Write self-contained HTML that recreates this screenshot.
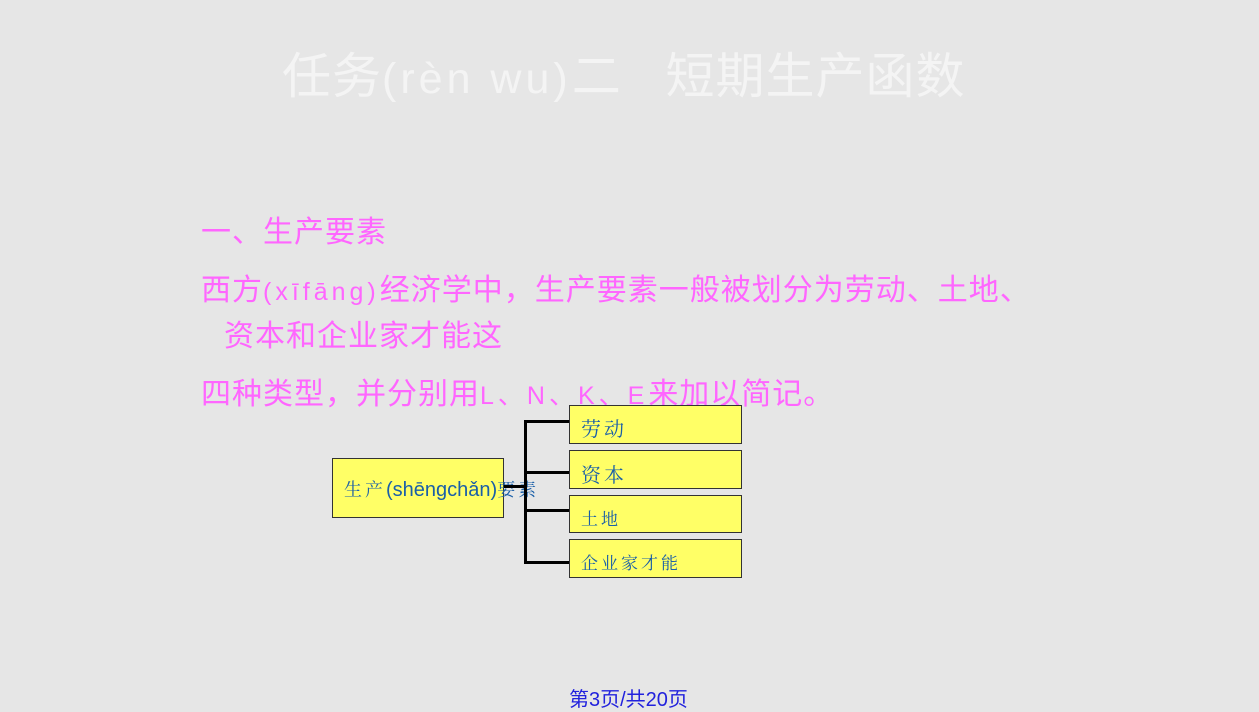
<!DOCTYPE html>
<html><head><meta charset="utf-8"><style>
body{margin:0;width:1259px;height:708px;background:#e6e6e6;position:relative;overflow:hidden;font-family:"Liberation Sans","Noto Sans CJK SC",sans-serif}
.a{position:absolute;white-space:nowrap}
.m{color:#ff66ff;font-size:30px;letter-spacing:1px}
.m span{font-size:25px;letter-spacing:4px}
.box{position:absolute;background:#ffff66;border:1px solid #333;box-sizing:border-box}
.s{font-family:"Noto Serif CJK SC","Liberation Serif",serif;color:#1a5fa8;letter-spacing:3px}
.l{position:absolute;background:#000}
</style></head><body>
<div class="a" style="left:282px;top:37px;font-size:49px;color:#f4f4f4;letter-spacing:1px">任务<span style="font-size:43px;letter-spacing:4px">(rèn wu)</span>二&nbsp;&nbsp;&nbsp;短期生产函数</div>
<div class="a m" style="left:201px;top:207px">一、生产要素</div>
<div class="a m" style="left:201px;top:265px">西方<span>(xīfāng)</span>经济学中，生产要素一般被划分为劳动、土地、</div>
<div class="a m" style="left:224px;top:311px">资本和企业家才能这</div>
<div class="a m" style="left:201px;top:369px">四种类型，并分别用<span>L、N、K、E</span>来加以简记。</div>
<div class="box" style="left:332px;top:458px;width:172px;height:60px"></div>
<div class="a" style="left:344px;top:476px;font-size:20px;color:#1a5fa8"><span class="s" style="font-size:18px">生产</span>(shēngchǎn)<span class="s" style="font-size:18px">要素</span></div>
<div class="l" style="left:504px;top:485px;width:22px;height:3px"></div>
<div class="l" style="left:524px;top:420px;width:3px;height:143px"></div>
<div class="l" style="left:524px;top:420px;width:46px;height:3px"></div>
<div class="l" style="left:524px;top:471px;width:46px;height:3px"></div>
<div class="l" style="left:524px;top:509px;width:46px;height:3px"></div>
<div class="l" style="left:524px;top:561px;width:46px;height:3px"></div>
<div class="box" style="left:569px;top:405px;width:173px;height:39px"></div>
<div class="box" style="left:569px;top:450px;width:173px;height:39px"></div>
<div class="box" style="left:569px;top:495px;width:173px;height:38px"></div>
<div class="box" style="left:569px;top:539px;width:173px;height:39px"></div>
<div class="a s" style="left:581px;top:413px;font-size:20px">劳动</div>
<div class="a s" style="left:581px;top:459px;font-size:20px">资本</div>
<div class="a s" style="left:581px;top:505px;font-size:17px">土地</div>
<div class="a s" style="left:581px;top:549px;font-size:17px">企业家才能</div>
<div class="a" style="left:569px;top:683px;font-size:20px;color:#2222dd">第3页/共20页</div>
</body></html>
